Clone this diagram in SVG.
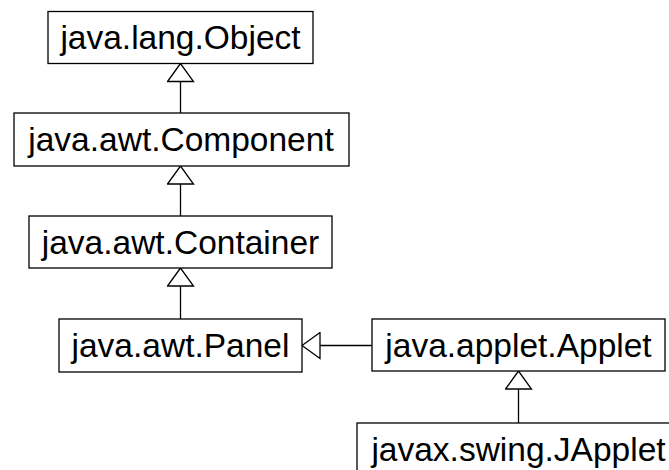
<svg xmlns="http://www.w3.org/2000/svg" width="669" height="470" viewBox="0 0 669 470">
<style>
.box{fill:#fff;stroke:#000;stroke-width:1.3}
.lbl{font-family:"Liberation Sans",Arial,sans-serif;font-size:33.5px;fill:#000;text-anchor:middle}
.edge{stroke:#000;stroke-width:1.3;fill:none;marker-end:url(#tri)}
</style>
<defs>
<marker id="tri" markerUnits="userSpaceOnUse" viewBox="-1 -1 20 28" refX="18" refY="13" markerWidth="20" markerHeight="28" orient="auto">
<path d="M18,13 L0,0 L0,26 Z" fill="#fff" stroke="#000" stroke-width="1.3"/>
</marker>
</defs>
<rect width="669" height="470" fill="#fff"/>
<g id="connectors">
<line class="edge" x1="180.5" y1="113" x2="180.5" y2="63.5"/>
<line class="edge" x1="180.5" y1="216" x2="180.5" y2="166"/>
<line class="edge" x1="180.5" y1="319" x2="180.5" y2="268"/>
<line class="edge" x1="372" y1="345.5" x2="302" y2="345.5"/>
<line class="edge" x1="518.5" y1="423" x2="518.5" y2="371"/>
</g>
<g id="object">
<rect class="box" x="48" y="11.5" width="265" height="52"/>
<text class="lbl" x="180.5" y="48.5">java.lang.Object</text>
</g>
<g id="component">
<rect class="box" x="14" y="113" width="335" height="53"/>
<text class="lbl" x="181" y="150.5">java.awt.Component</text>
</g>
<g id="container">
<rect class="box" x="29" y="216" width="303" height="52"/>
<text class="lbl" x="180.5" y="254">java.awt.Container</text>
</g>
<g id="panel">
<rect class="box" x="59" y="319" width="243" height="53"/>
<text class="lbl" x="180.5" y="357">java.awt.Panel</text>
</g>
<g id="applet">
<rect class="box" x="372" y="319" width="293" height="52"/>
<text class="lbl" x="518.5" y="356.5">java.applet.Applet</text>
</g>
<g id="japplet">
<rect class="box" x="357" y="423" width="324" height="52"/>
<text class="lbl" x="518.5" y="460.5">javax.swing.JApplet</text>
</g>
</svg>
